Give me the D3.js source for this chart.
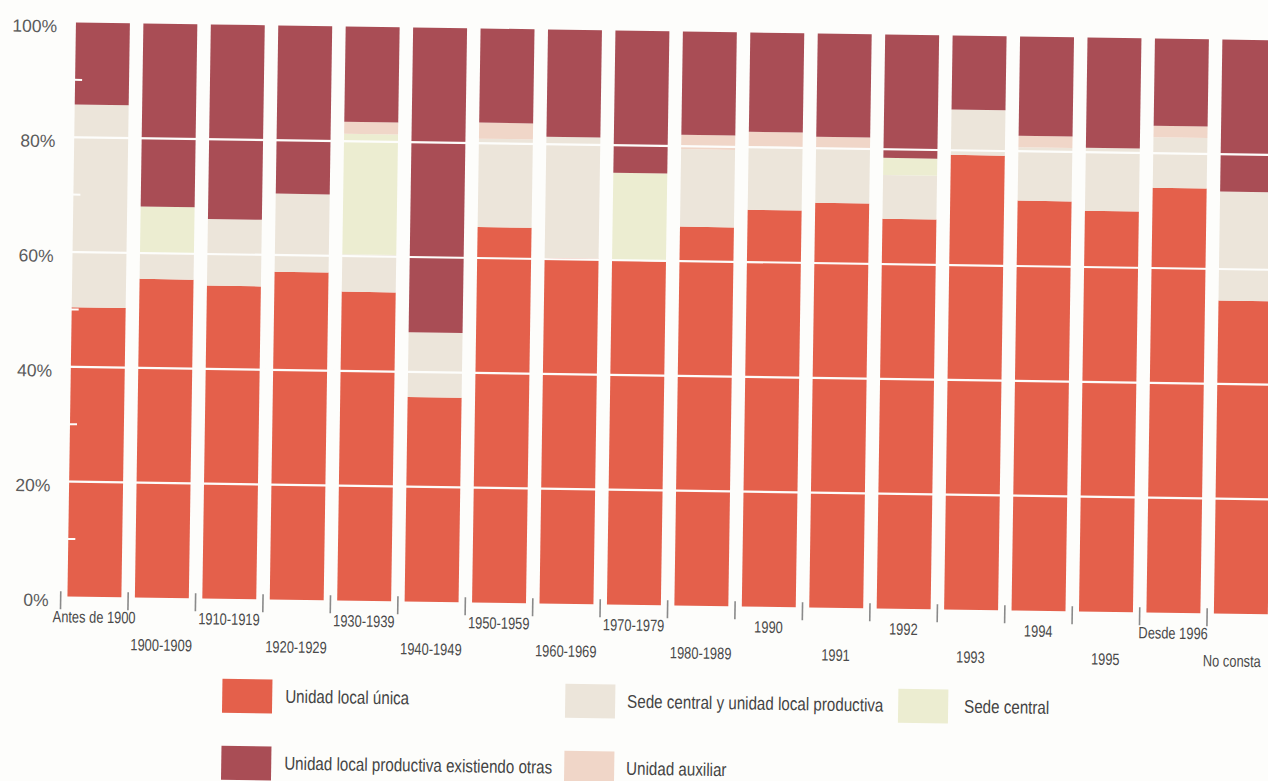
<!DOCTYPE html>
<html><head><meta charset="utf-8">
<script src="https://cdn.jsdelivr.net/npm/d3@7"></script>
<style>html,body{margin:0;padding:0;background:#fdfdfb;}svg{display:block;}</style>
</head><body>
<svg id="c" width="1268" height="781"></svg>
<script>
// ---- data (percent of each period) ----
const categories = ["Antes de 1900","1900-1909","1910-1919","1920-1929","1930-1939","1940-1949","1950-1959","1960-1969","1970-1979","1980-1989","1990","1991","1992","1993","1994","1995","Desde 1996","No consta"];
const unidadLocalUnica     = [50.4,55.5,54.5,57.1,53.8,35.6,65.4,60.2,59.9,66.0,69.1,70.5,67.9,79.2,71.4,69.8,74.0,54.5];
const sedeCentralYULP      = [35.3, 4.5,11.6,13.6, 6.5,11.3,15.4,21.1, 0.0,13.5,11.1, 9.5, 7.6, 7.9, 9.3,11.0, 8.8,19.0];
const sedeCentral          = [ 0.0, 8.1, 0.0, 0.0,21.0, 0.0, 0.0, 0.0,15.3, 0.0, 0.0, 0.0, 3.0, 0.0, 0.0, 0.0, 0.0, 0.0];
const unidadAuxiliar       = [ 0.0, 0.0, 0.0, 0.0, 2.1, 0.0, 2.8, 0.0, 0.0, 2.5, 2.5, 2.0, 0.0, 0.0, 2.0, 0.0, 2.0, 0.0];
const unidadProductivaOtras= [14.3,31.9,33.9,29.3,16.6,53.1,16.4,18.7,24.8,18.0,17.3,18.0,21.5,12.9,17.3,19.2,15.2,26.5];
const yTicks = [0,20,40,60,80,100];
const minorTicks = [10,30,50,70,90];

const seriesNames = ["Unidad local única","Sede central y unidad local productiva","Sede central","Unidad auxiliar","Unidad local productiva existiendo otras"];
const seriesValues = [unidadLocalUnica, sedeCentralYULP, sedeCentral, unidadAuxiliar, unidadProductivaOtras];
const colors = ["#e4604b","#ece5da","#ecedd1","#f0d6c8","#a94d55"];

const rows = categories.map((c,i)=>{const o={cat:c}; seriesNames.forEach((s,k)=>o[s]=seriesValues[k][i]); return o;});
const stacked = d3.stack().keys(seriesNames)(rows);

const svg = d3.select("#c");
const g = svg.append("g").attr("transform","rotate(0.85,650,310)");

const x = d3.scaleBand().domain(categories).range([65,1279]).paddingInner(0.2).paddingOuter(0.1);
const y = d3.scaleLinear().domain([0,100]).range([605,31]);

const narrow = "'Liberation Sans',Arial,sans-serif";

// bars
g.append("g").selectAll("g").data(stacked).join("g")
  .attr("fill",(d,i)=>colors[i])
  .selectAll("rect").data(d=>d).join("rect")
  .attr("x",d=>x(d.data.cat))
  .attr("width",x.bandwidth())
  .attr("y",d=>y(d[1]))
  .attr("height",d=>Math.max(0,y(d[0])-y(d[1])));

// white gridlines across bars
g.append("g").selectAll("line").data(yTicks.filter(t=>t>0&&t<100)).join("line")
  .attr("x1",60).attr("x2",1290)
  .attr("y1",d=>y(d)).attr("y2",d=>y(d))
  .attr("stroke","#fdfdfb").attr("stroke-width",2.2);

// white minor ticks at left edge
g.append("g").selectAll("line").data(minorTicks).join("line")
  .attr("x1",x(categories[0])-1).attr("x2",x(categories[0])+7)
  .attr("y1",d=>y(d)).attr("y2",d=>y(d))
  .attr("stroke","#fdfdfb").attr("stroke-width",2);

// y axis labels
const yAxis = d3.axisLeft(y).tickValues(yTicks).tickFormat(d=>d+"%").tickSize(0).tickPadding(0);
const ya = g.append("g").attr("transform","translate(53,4)").call(yAxis);
ya.select(".domain").remove();
ya.selectAll("text").attr("font-family","'Liberation Sans',Arial,sans-serif").attr("font-size",17.5).attr("fill","#5b5b5b");

// bottom ticks between bars
const step = x.step();
g.append("g").selectAll("line").data(categories).join("line")
  .attr("x1",d=>x(d)-step*0.1).attr("x2",d=>x(d)-step*0.1)
  .attr("y1",y(0)-5).attr("y2",y(0)+13)
  .attr("stroke","#8a8a8a").attr("stroke-width",1.6);

// category labels (alternating rows), condensed
g.append("g").selectAll("text").data(categories).join("text")
  .attr("transform",(d,i)=>{
     let cx = x(d)+x.bandwidth()/2;
     if (i===categories.length-1) cx = Math.min(cx, 1237);
     return `translate(${cx},${i%2===0 ? 631 : 658}) scale(0.78,1)`;
  })
  .attr("text-anchor","middle")
  .attr("font-family",narrow)
  .attr("font-size",16.5).attr("fill","#4a4a4a")
  .text(d=>d);

// legend
const legendItems = [
  {name:"Unidad local única", c:0, sx:228, tx:291, cy:702},
  {name:"Sede central y unidad local productiva", c:1, sx:571, tx:633, cy:702},
  {name:"Sede central", c:2, sx:904, tx:970, cy:702},
  {name:"Unidad local productiva existiendo otras", c:4, sx:228, tx:291, cy:769},
  {name:"Unidad auxiliar", c:3, sx:571, tx:633, cy:769}
];
const lg = g.append("g").selectAll("g").data(legendItems).join("g");
lg.append("rect").attr("x",d=>d.sx).attr("y",d=>d.cy-17).attr("width",50).attr("height",34)
  .attr("fill",d=>colors[d.c]);
lg.append("text").attr("transform",d=>`translate(${d.tx},${d.cy+6}) scale(0.82,1)`)
  .attr("font-family",narrow)
  .attr("font-size",18.5).attr("fill","#444")
  .text(d=>d.name);
</script>
</body></html>
